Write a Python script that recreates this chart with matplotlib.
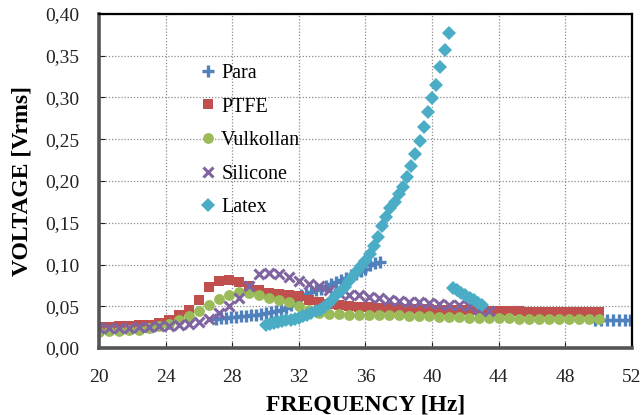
import matplotlib
matplotlib.use("Agg")
import matplotlib.pyplot as plt
from matplotlib.ticker import FuncFormatter, MultipleLocator

# sweep grid used for PTFE, Vulkollan and Silicone
freq = [20.0, 20.6, 21.2, 21.8, 22.4, 23.0, 23.6, 24.2, 24.8, 25.4,
        26.0, 26.6, 27.2, 27.8, 28.4, 29.0, 29.6, 30.2, 30.8, 31.4,
        32.0, 32.6, 33.2, 33.8, 34.4, 35.0, 35.6, 36.2, 36.8, 37.4,
        38.0, 38.6, 39.2, 39.8, 40.4, 41.0, 41.6, 42.2, 42.8, 43.4,
        44.0, 44.6, 45.2, 45.8, 46.4, 47.0, 47.6, 48.2, 48.8, 49.4, 50.0]

ptfe = [0.025, 0.025, 0.026, 0.026, 0.027, 0.028, 0.030, 0.033, 0.040, 0.046,
        0.058, 0.073, 0.080, 0.081, 0.079, 0.074, 0.069, 0.066, 0.065, 0.064,
        0.062, 0.058, 0.055, 0.053, 0.051, 0.050, 0.049, 0.049, 0.048, 0.048,
        0.048, 0.047, 0.047, 0.047, 0.046, 0.046, 0.045, 0.045, 0.045, 0.044,
        0.044, 0.044, 0.044, 0.043, 0.043, 0.043, 0.043, 0.043, 0.043, 0.043, 0.043]

vulkollan = [0.019, 0.020, 0.020, 0.021, 0.022, 0.024, 0.026, 0.029, 0.033, 0.038,
             0.044, 0.052, 0.059, 0.064, 0.067, 0.066, 0.063, 0.060, 0.058, 0.055,
             0.050, 0.045, 0.042, 0.041, 0.041, 0.040, 0.040, 0.040, 0.039, 0.039,
             0.039, 0.038, 0.038, 0.038, 0.037, 0.037, 0.037, 0.036, 0.036, 0.036,
             0.036, 0.036, 0.035, 0.035, 0.035, 0.035, 0.035, 0.035, 0.035, 0.035, 0.035]

silicone = [0.024, 0.024, 0.024, 0.024, 0.025, 0.025, 0.026, 0.026, 0.027, 0.029,
            0.031, 0.035, 0.042, 0.050, 0.060, 0.074, 0.089, 0.090, 0.089, 0.085,
            0.080, 0.077, 0.074, 0.069, 0.066, 0.064, 0.063, 0.061, 0.060, 0.058,
            0.056, 0.055, 0.055, 0.054, 0.053, 0.052, 0.051, 0.050, 0.047, 0.044]

para_f = [27.0, 27.3, 27.6, 27.9, 28.2, 28.5, 28.8, 29.1, 29.4, 29.7,
          30.0, 30.3, 30.6, 30.9, 31.2, 31.5, 31.8, 32.1, 32.4, 32.7,
          33.0, 33.3, 33.6, 33.9, 34.2, 34.5, 34.8, 35.1, 35.4, 35.7,
          36.0, 36.3, 36.6, 36.9,
          49.8, 50.15, 50.5, 50.85, 51.2, 51.55, 51.9]
para = [0.035, 0.036, 0.036, 0.037, 0.037, 0.038, 0.038, 0.039, 0.040, 0.041,
        0.042, 0.043, 0.044, 0.046, 0.048, 0.052, 0.058, 0.063, 0.065, 0.067,
        0.069, 0.071, 0.074, 0.077, 0.079, 0.081, 0.084, 0.087, 0.089, 0.092,
        0.095, 0.099, 0.102, 0.103,
        0.034, 0.034, 0.034, 0.034, 0.034, 0.034, 0.034]

latex_f = [30.0, 30.25, 30.5, 30.75, 31.0, 31.25, 31.5, 31.75, 32.0, 32.25,
           32.5, 32.75, 33.0, 33.25, 33.5, 33.75, 34.0, 34.25, 34.5, 34.75,
           35.0, 35.25, 35.5, 35.75, 36.0, 36.25, 36.5, 36.75, 37.0, 37.25,
           37.5, 37.75, 38.0, 38.25, 38.5, 38.75, 39.0, 39.25, 39.5, 39.75,
           40.0, 40.25, 40.5, 40.75, 41.0,
           41.25, 41.5, 41.75, 42.0, 42.25, 42.5, 42.75, 43.0]
latex = [0.028, 0.029, 0.030, 0.031, 0.032, 0.033, 0.034, 0.035, 0.036, 0.038,
         0.040, 0.042, 0.044, 0.046, 0.049, 0.053, 0.058, 0.063, 0.068, 0.073,
         0.080, 0.086, 0.092, 0.098, 0.104, 0.112, 0.122, 0.133, 0.146, 0.157,
         0.168, 0.175, 0.185, 0.193, 0.205, 0.218, 0.232, 0.248, 0.265, 0.283,
         0.299, 0.315, 0.336, 0.357, 0.377,
         0.072, 0.069, 0.066, 0.063, 0.060, 0.057, 0.054, 0.052]

serif = ["Liberation Serif", "DejaVu Serif"]
plt.rcParams["font.family"] = serif

fig = plt.figure(figsize=(6.41, 4.15), dpi=100)
ax = fig.add_axes([0.1544, 0.1614, 0.8316, 0.8049])

ax.plot(para_f, para, ls="none", marker="+", ms=9, mew=2.4, color="#4F81BD", label="Para")
ax.plot(freq, ptfe, ls="none", marker="s", ms=7.3, mew=0, color="#C0504D", label="PTFE")
ax.plot(freq, vulkollan, ls="none", marker="o", ms=7.8, mew=0, color="#9BBB59", label="Vulkollan")
ax.plot(freq[:len(silicone)], silicone, ls="none", marker="x", ms=7.5, mew=2.2, color="#8064A2", label="Silicone")
ax.plot(latex_f, latex, ls="none", marker="D", ms=6.8, mew=0, color="#4BACC6", label="Latex")

ax.set_xlim(20, 52)
ax.set_ylim(0, 0.40)
ax.xaxis.set_major_locator(MultipleLocator(4))
ax.yaxis.set_major_locator(MultipleLocator(0.05))
ax.yaxis.set_major_formatter(FuncFormatter(lambda v, p: f"{v:.2f}".replace(".", ",")))
ax.grid(True, color="#8c8c8c", ls=(0, (1, 1.5)), lw=0.9)
ax.tick_params(direction="in", length=4, labelsize=14, colors="#222222")
ax.tick_params(axis="y", pad=14)
ax.tick_params(axis="x", pad=15)

for side in ["top", "right"]:
    ax.spines[side].set_linewidth(1.6)
    ax.spines[side].set_color("black")
for side in ["left", "bottom"]:
    ax.spines[side].set_linewidth(2.6)
    ax.spines[side].set_color("#555555")

ax.set_xlabel("FREQUENCY [Hz]", fontsize=17, fontweight="bold", labelpad=6)
ax.set_ylabel("VOLTAGE [Vrms]", fontsize=17, fontweight="bold", labelpad=9)

ax.legend(loc="upper left", bbox_to_anchor=(0.148, 0.905), frameon=False,
          fontsize=14.5, labelspacing=0.72, handletextpad=0.05, handlelength=1.2)

fig.savefig("out.png", dpi=100)
